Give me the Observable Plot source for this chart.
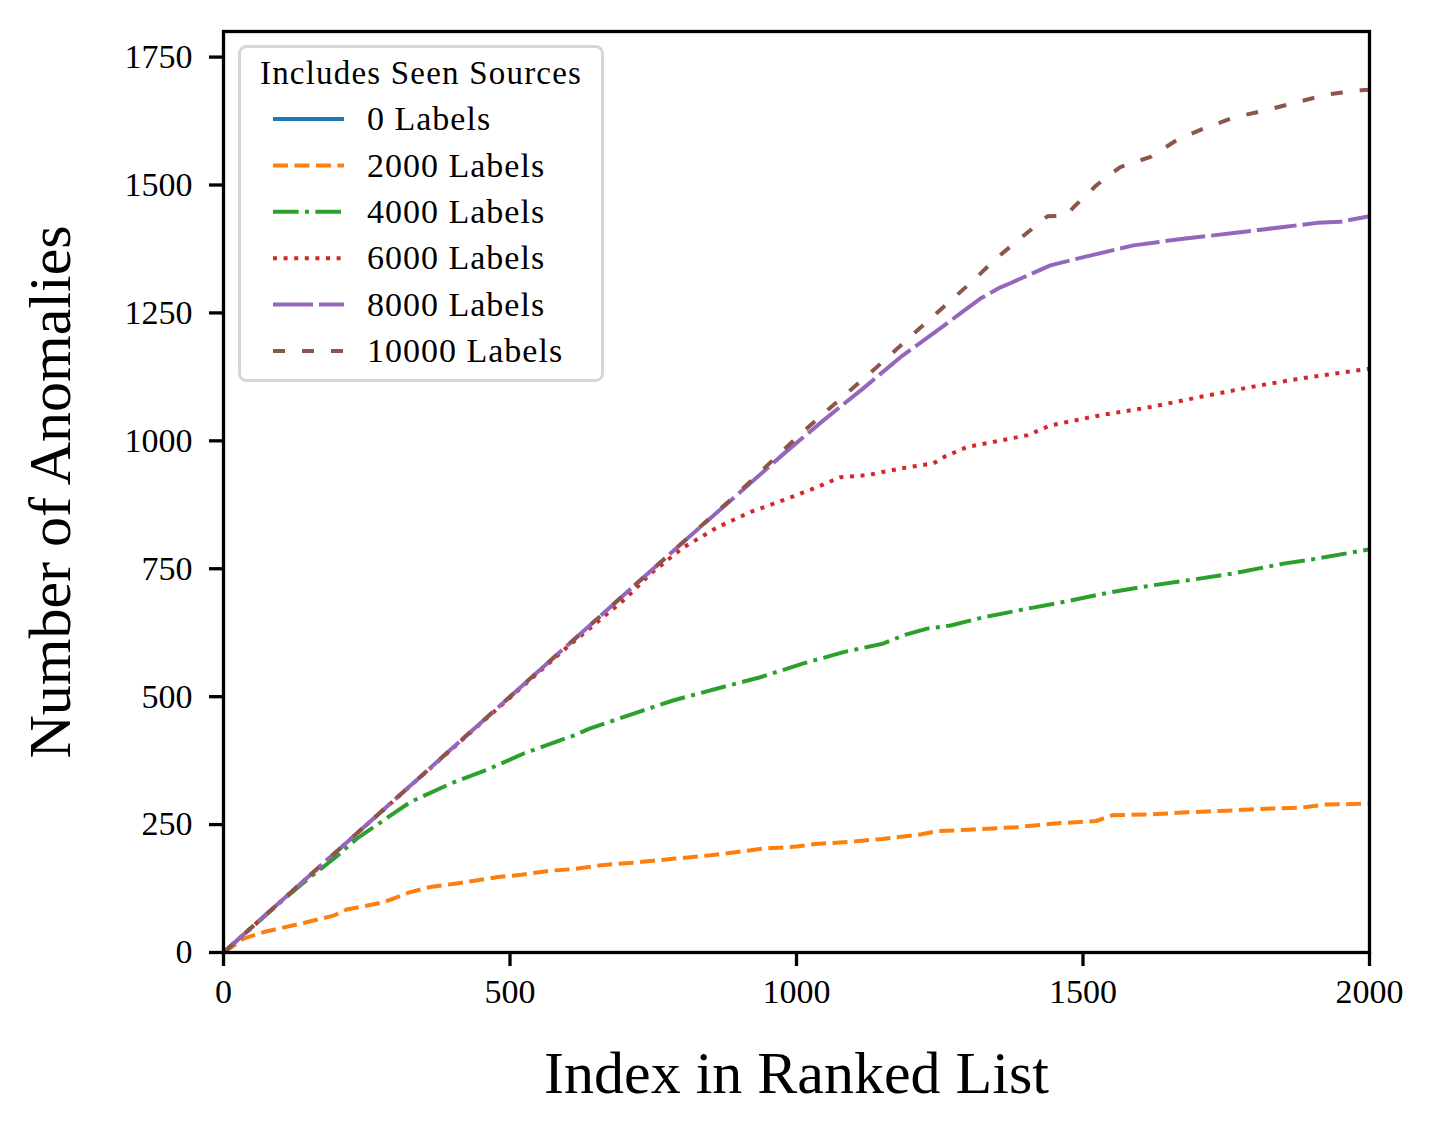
<!DOCTYPE html>
<html>
<head>
<meta charset="utf-8">
<script src="https://cdn.jsdelivr.net/npm/d3@7"></script>
<script src="https://cdn.jsdelivr.net/npm/@observablehq/plot@0.6"></script>
<style>
  body { margin: 0; background: #fff; }
  #wrap { position: relative; width: 1433px; height: 1134px; background: #fff; }
  #legend { position: absolute; left: 238px; top: 45px; }
</style>
</head>
<body>
<div id="wrap"><div id="chart"></div><div id="legend"></div></div>
<script>
// ---------- data ----------
const xLabel = "Index in Ranked List";
const yLabel = "Number of Anomalies";
const legendTitle = "Includes Seen Sources";
const seriesNames = ["0 Labels", "2000 Labels", "4000 Labels", "6000 Labels", "8000 Labels", "10000 Labels"];
const seriesColors = ["#1f77b4", "#ff7f0e", "#2ca02c", "#d62728", "#9467bd", "#8c564b"];
const xTicks = [0, 500, 1000, 1500, 2000];
const yTicks = [0, 250, 500, 750, 1000, 1250, 1500, 1750];

// 0 Labels: no visible curve in the reference
const idx0 = [];
const val0 = [];

const idx2000 = [0, 35, 70, 145, 192, 215, 279, 326, 361, 407, 476, 520, 571, 611, 663, 720, 784, 850, 893, 941, 1000, 1033, 1100, 1150, 1218, 1245, 1300, 1384, 1450, 1523, 1551, 1620, 1680, 1750, 1819, 1880, 1921, 2000];
const val2000 = [0, 27, 40, 59, 72, 84, 98, 118, 128, 135, 147, 152, 160, 163, 171, 176, 183, 190, 196, 203, 207, 212, 217, 222, 231, 237, 240, 245, 252, 257, 268, 270, 274, 277, 281, 283, 289, 291];

const idx4000 = [0, 100, 150, 200, 232, 279, 326, 396, 466, 524, 611, 640, 716, 786, 862, 937, 1012, 1082, 1152, 1187, 1228, 1269, 1326, 1403, 1461, 1548, 1618, 1693, 1763, 1850, 1909, 2000];
const val4000 = [0, 99, 146, 190, 222, 258, 294, 330, 360, 389, 424, 438, 467, 493, 516, 538, 565, 587, 604, 620, 633, 639, 655, 672, 684, 704, 717, 729, 741, 760, 770, 788];

const idx6000 = [0, 200, 400, 600, 700, 745, 803, 862, 920, 977, 1037, 1077, 1124, 1182, 1239, 1260, 1298, 1344, 1403, 1443, 1530, 1618, 1705, 1792, 1880, 2000];
const val6000 = [0, 200, 399, 597, 690, 740, 792, 831, 861, 884, 910, 929, 933, 946, 956, 970, 988, 998, 1011, 1030, 1050, 1066, 1086, 1105, 1122, 1141];

const idx8000 = [0, 200, 400, 600, 800, 900, 978, 1047, 1117, 1182, 1234, 1286, 1321, 1356, 1373, 1443, 1501, 1588, 1675, 1763, 1850, 1909, 1949, 2000];
const val8000 = [0, 200, 400, 600, 800, 898, 975, 1040, 1103, 1164, 1206, 1249, 1278, 1300, 1308, 1343, 1359, 1382, 1395, 1406, 1418, 1426, 1428, 1439];

const idx10000 = [0, 200, 400, 600, 800, 900, 1001, 1047, 1134, 1221, 1263, 1309, 1349, 1391, 1438, 1470, 1484, 1524, 1565, 1618, 1664, 1710, 1763, 1822, 1874, 1927, 1985, 2000];
const val10000 = [0, 200, 400, 600, 800, 900, 1007, 1053, 1138, 1226, 1268, 1314, 1357, 1396, 1439, 1440, 1457, 1500, 1535, 1555, 1588, 1610, 1632, 1647, 1662, 1677, 1685, 1686];

// ---------- build ----------
const seriesIdx = [idx0, idx2000, idx4000, idx6000, idx8000, idx10000];
const seriesVal = [val0, val2000, val4000, val6000, val8000, val10000];
const dashes = ["none", "15,6.5", "25.6,6.4,4,6.4", "4,6.6", "40,6", "12,17"];
const LW = 4;
const FONT = "'Liberation Serif', 'Times New Roman', serif";

const rows = seriesNames.map((name, i) => seriesIdx[i].map((x, j) => ({series: name, x, y: seriesVal[i][j]})));

const lineMarks = rows.map((data, i) => data.length ? Plot.line(data, {
  x: "x", y: "y", stroke: seriesColors[i], strokeWidth: LW,
  strokeDasharray: dashes[i], strokeLinecap: "butt", strokeLinejoin: "round"
}) : null).filter(Boolean);

const chart = Plot.plot({
  width: 1433,
  height: 1134,
  marginLeft: 223,
  marginRight: 64,
  marginTop: 31,
  marginBottom: 182,
  style: {fontFamily: FONT, fontSize: "34px", background: "#fff", color: "#000"},
  x: {domain: [0, 2000]},
  y: {domain: [0, 1800]},
  marks: [
    ...lineMarks,
    Plot.frame({stroke: "#000", strokeWidth: 3.3}),
    Plot.axisX(xTicks, {tickSize: 14, tickPadding: 12, strokeWidth: 3.3, tickFormat: d3.format("d"), label: null, fontSize: 34}),
    Plot.axisY(yTicks, {tickSize: 14, tickPadding: 17, strokeWidth: 3.3, tickFormat: d3.format("d"), label: null, fontSize: 34}),
    Plot.text([xLabel], {frameAnchor: "bottom", dy: 121, fontSize: 60, fill: "#000", lineAnchor: "middle", textAnchor: "middle"}),
    Plot.text([yLabel], {frameAnchor: "left", dx: -173, rotate: -90, fontSize: 60, fill: "#000", lineAnchor: "middle", textAnchor: "middle"})
  ]
});
document.getElementById("chart").appendChild(chart);

// ---------- legend (inside the axes, upper left) ----------
const lw = 366, lh = 337;
const leg = d3.select("#legend").append("svg").attr("width", lw).attr("height", lh)
  .style("font-family", FONT);
leg.append("rect").attr("x", 1.5).attr("y", 1.5).attr("width", lw - 3).attr("height", lh - 3)
  .attr("rx", 7).attr("fill", "rgba(255,255,255,0.85)").attr("stroke", "#d6d6d6").attr("stroke-width", 3);
leg.append("text").attr("x", lw / 2).attr("y", 28).attr("dy", "0.33em").attr("text-anchor", "middle")
  .attr("font-size", 33).attr("letter-spacing", 1.2).text(legendTitle);
seriesNames.forEach((name, i) => {
  const cy = 74 + i * 46.4;
  leg.append("line").attr("x1", 35).attr("x2", 106).attr("y1", cy).attr("y2", cy)
    .attr("stroke", seriesColors[i]).attr("stroke-width", LW)
    .attr("stroke-dasharray", dashes[i]).attr("stroke-linecap", "butt");
  leg.append("text").attr("x", 129).attr("y", cy).attr("dy", "0.33em").attr("font-size", 34)
    .attr("letter-spacing", 1).text(name);
});
</script>
</body>
</html>
